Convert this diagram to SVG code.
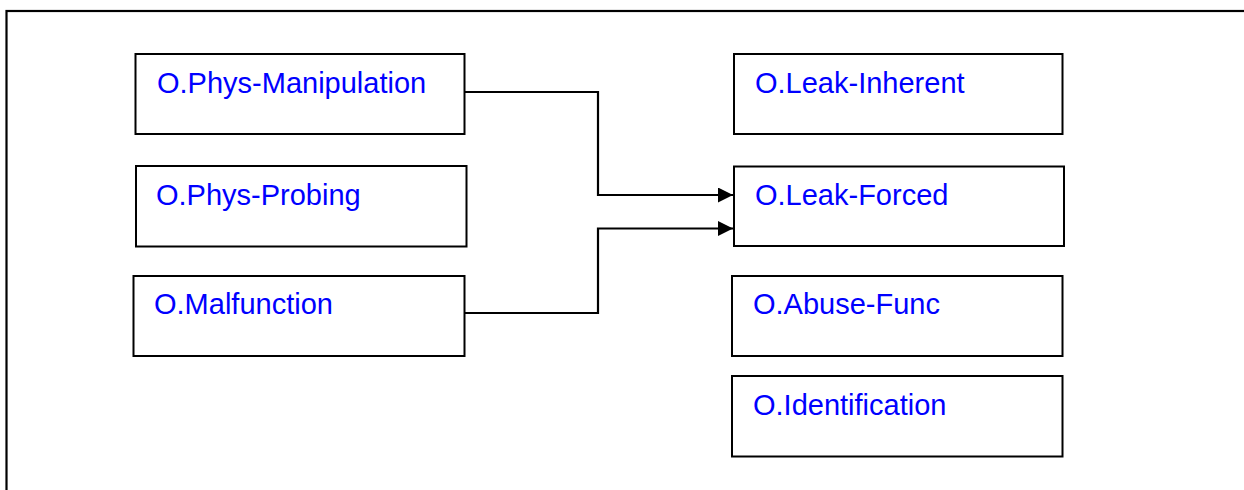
<svg xmlns="http://www.w3.org/2000/svg" width="1244" height="490" viewBox="0 0 1244 490">
<style>
.box{fill:#fff;stroke:#000;stroke-width:2}
.lbl{font-family:"Liberation Sans",Arial,sans-serif;font-size:29px;fill:#0000ff}
.conn{fill:none;stroke:#000;stroke-width:2.2}
</style>
<defs>
<marker id="arr" markerWidth="16" markerHeight="15" refX="15" refY="7.5" orient="auto" markerUnits="userSpaceOnUse">
<path d="M0,0 L15,7.5 L0,15 Z" fill="#000"/>
</marker>
</defs>
<rect x="0" y="0" width="1244" height="490" fill="#fff"/>
<rect x="6.5" y="11" width="1300" height="600" fill="none" stroke="#000" stroke-width="2.2"/>
<g id="n-phys-manipulation"><rect class="box" x="135.5" y="54" width="329" height="80"/><text class="lbl" x="157" y="93">O.Phys-Manipulation</text></g>
<g id="n-phys-probing"><rect class="box" x="136" y="166" width="330.5" height="80.5"/><text class="lbl" x="156" y="205">O.Phys-Probing</text></g>
<g id="n-malfunction"><rect class="box" x="133.5" y="276" width="331" height="80"/><text class="lbl" x="154" y="314">O.Malfunction</text></g>
<g id="n-leak-inherent"><rect class="box" x="734" y="54" width="328.5" height="80"/><text class="lbl" x="755" y="93">O.Leak-Inherent</text></g>
<g id="n-leak-forced"><rect class="box" x="734" y="166.5" width="330" height="79.5"/><text class="lbl" x="755" y="205">O.Leak-Forced</text></g>
<g id="n-abuse-func"><rect class="box" x="732" y="276" width="330.5" height="80"/><text class="lbl" x="753" y="314">O.Abuse-Func</text></g>
<g id="n-identification"><rect class="box" x="732" y="376" width="330.5" height="80.5"/><text class="lbl" x="753" y="415">O.Identification</text></g>
<g id="connectors">
<path class="conn" d="M464.5,92 H598 V195 H733" marker-end="url(#arr)"/>
<path class="conn" d="M464.5,313 H598 V228.5 H733" marker-end="url(#arr)"/>
</g>
</svg>
